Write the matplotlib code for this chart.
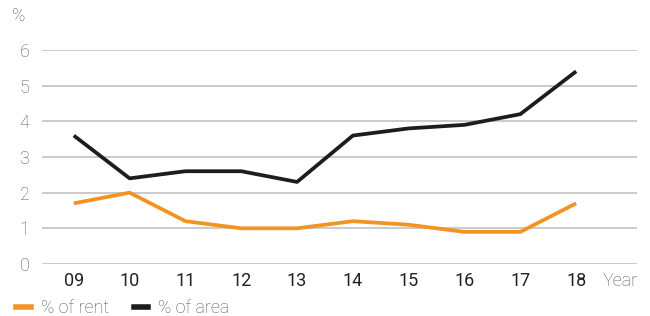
import matplotlib.pyplot as plt
import numpy as np
from matplotlib.lines import Line2D

years = ["09", "10", "11", "12", "13", "14", "15", "16", "17", "18"]
rent = [1.7, 2.0, 1.2, 1.0, 1.0, 1.2, 1.1, 0.9, 0.9, 1.7]
area = [3.6, 2.4, 2.6, 2.6, 2.3, 3.6, 3.8, 3.9, 4.2, 5.4]

orange = "#f39322"
dark = "#1d1d1b"
grid_c = "#c6c6c6"

plt.rcParams["font.family"] = ["Roboto", "DejaVu Sans"]
fs = 13

fig = plt.figure(figsize=(6.5, 3.16), dpi=100)
ax = fig.add_axes([0.0646, 0.1646, 0.9154, 0.6774])

x = np.arange(len(years))
ax.plot(x, rent, color=orange, lw=2.7, solid_capstyle="butt")
ax.plot(x, area, color=dark, lw=2.7, solid_capstyle="butt")

ax.set_ylim(0, 6)
ax.set_xlim(-0.57, 10.09)
ax.set_yticks(range(7))
ax.yaxis.grid(True, color=grid_c, lw=1.3)
ax.set_axisbelow(True)
for s in ax.spines.values():
    s.set_visible(False)
ax.tick_params(length=0)
ax.tick_params(axis="y", pad=9, labelsize=fs, labelcolor="#5a5a5a")
ax.tick_params(axis="x", pad=6, labelsize=fs, labelcolor="#222222")
ax.set_xticks(x)
ax.set_xticklabels(years)
for lab in ax.get_yticklabels():
    lab.set_fontweight("light")

fig.text(0.927, 0.1646 - 0.025, "Year", fontsize=fs, color="#5a5a5a",
         fontweight="light", va="top", ha="left")
fig.text(0.018, 0.948, "%", fontsize=fs, color="#5a5a5a",
         fontweight="light", va="center", ha="left")

handles = [Line2D([], [], color=orange, lw=4),
           Line2D([], [], color=dark, lw=4)]
leg = fig.legend(handles, ["% of rent", "% of area"], loc="lower left",
                 bbox_to_anchor=(0.0, -0.055), ncol=2, frameon=False,
                 handlelength=0.8, handletextpad=0.55, columnspacing=1.4,
                 fontsize=fs, labelcolor="#5a5a5a")
for t in leg.get_texts():
    t.set_fontweight("light")

fig.savefig("out.png", dpi=100)
